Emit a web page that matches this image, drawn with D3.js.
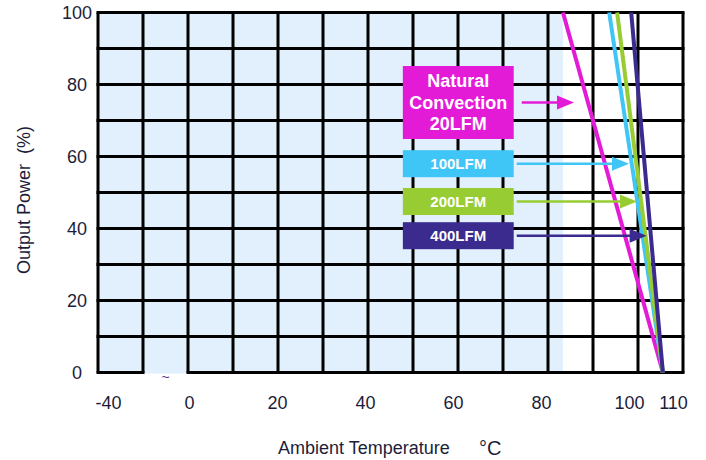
<!DOCTYPE html>
<html>
<head>
<meta charset="utf-8">
<script src="https://cdn.jsdelivr.net/npm/d3@7"></script>
<style>
  body { margin: 0; background: #fff; }
  svg { display: block; font-family: "Liberation Sans", Arial, sans-serif; }
</style>
</head>
<body>
<script>
// derating curves
const seriesNames = ["Natural\nConvection\n20LFM", "100LFM", "200LFM", "400LFM"];
const seriesColors = ["#e41bd6", "#3fc6f6", "#97cc32", "#3b2b8e"];
const fullLoadTemp = [85, 95.5, 97.3, 100.5];   // °C at 100 %
const zeroLoadTemp = [107.7, 107.7, 107.7, 107.7]; // °C at 0 %
const arrowLevel = [75, 58, 47.5, 38];          // % where each arrow points
const arrowTipTemp = [87.5, 100, 101.8, 104];

const xTicks = [-40, 0, 20, 40, 60, 80, 100, 110];
const yTicks = [0, 20, 40, 60, 80, 100];

const width = 706, height = 460;
const plot = { left: 98, right: 683, top: 12.5, bottom: 372.5 };

// broken axis: -40 sits left of the break, 0..110 linear
const x = d3.scaleLinear()
  .domain([-40, 0, 110])
  .range([108, 189, 673]);

const y = d3.scaleLinear()
  .domain([0, 100])
  .range([plot.bottom, plot.top]);

// grid cells are drawn independent of the labels (13 columns)
const gx = d3.scaleLinear().domain([0, 13]).range([plot.left, plot.right]);

const svg = d3.select("body").append("svg")
  .attr("width", width)
  .attr("height", height);

// light blue zone: full power in natural convection
svg.append("rect")
  .attr("x", plot.left)
  .attr("y", plot.top)
  .attr("width", x(fullLoadTemp[0]) - plot.left)
  .attr("height", plot.bottom - plot.top + 1)
  .attr("fill", "#e1f0fc");

const grid = svg.append("g")
  .attr("stroke", "#000")
  .attr("stroke-width", 3);

grid.selectAll(".v")
  .data(d3.range(0, 14))
  .join("line")
  .attr("x1", d => gx(d)).attr("x2", d => gx(d))
  .attr("y1", plot.top).attr("y2", plot.bottom);

grid.selectAll(".h")
  .data(d3.range(10, 101, 10))
  .join("line")
  .attr("x1", plot.left - 1.5).attr("x2", plot.right + 1.5)
  .attr("y1", d => y(d)).attr("y2", d => y(d));

// bottom border with the gap at the break
grid.append("path")
  .attr("fill", "none")
  .attr("d", `M${plot.left - 1.5},${plot.bottom}H${gx(1) + 1.5}M${gx(2) - 1.5},${plot.bottom}H${plot.right + 1.5}`);

svg.append("text")
  .attr("x", (gx(1) + gx(2)) / 2)
  .attr("y", 382)
  .attr("text-anchor", "middle")
  .attr("font-size", 14)
  .attr("fill", "#5a3d8a")
  .text("~");

// curves
const line = d3.line().x(d => x(d[0])).y(d => y(d[1]));
svg.append("g")
  .selectAll("path")
  .data(seriesNames.map((n, i) => [[fullLoadTemp[i], 100], [zeroLoadTemp[i], 0]]))
  .join("path")
  .attr("d", line)
  .attr("fill", "none")
  .attr("stroke", (d, i) => seriesColors[i])
  .attr("stroke-width", 4);

// axes
const xAxis = g => g
  .attr("transform", `translate(0,${plot.bottom})`)
  .call(d3.axisBottom(x).tickValues(xTicks).tickFormat(d => String(d)).tickSize(0).tickPadding(24))
  .call(g => g.select(".domain").remove())
  .call(g => g.selectAll("text")
    .attr("font-size", 18)
    .attr("font-family", "Liberation Sans, Arial, sans-serif")
    .attr("fill", "#1d1d3a"));

const yAxis = g => g
  .attr("transform", `translate(77,0)`)
  .call(d3.axisLeft(y).tickValues(yTicks).tickSize(0).tickPadding(0))
  .call(g => g.select(".domain").remove())
  .call(g => g.selectAll("text")
    .attr("text-anchor", "middle")
    .attr("font-size", 18)
    .attr("font-family", "Liberation Sans, Arial, sans-serif")
    .attr("fill", "#1d1d3a"));

svg.append("g").call(xAxis);
svg.append("g").call(yAxis);

svg.append("text")
  .attr("transform", "translate(30,200) rotate(-90)")
  .attr("text-anchor", "middle")
  .attr("font-size", 18)
  .attr("fill", "#1d1d3a")
  .attr("xml:space", "preserve")
  .text("Output Power  (%)");

svg.append("text")
  .attr("x", 278)
  .attr("y", 454)
  .attr("font-size", 18)
  .attr("fill", "#1d1d3a")
  .text("Ambient Temperature");

svg.append("text")
  .attr("x", 479)
  .attr("y", 455)
  .attr("font-size", 20)
  .attr("fill", "#1d1d3a")
  .text("°C");

// labels with arrows
const boxLeft = x(48.6), boxRight = x(73.8);
const labels = svg.append("g");
seriesNames.forEach((name, i) => {
  const lines = name.split("\n");
  const cy = y(arrowLevel[i]);
  const h = lines.length > 1 ? 73 : 27;
  const g = labels.append("g");
  g.append("rect")
    .attr("x", boxLeft)
    .attr("y", cy - h / 2)
    .attr("width", boxRight - boxLeft)
    .attr("height", h)
    .attr("fill", seriesColors[i]);
  const fs = lines.length > 1 ? 18 : 15;
  g.selectAll("text")
    .data(lines)
    .join("text")
    .attr("x", (boxLeft + boxRight) / 2)
    .attr("y", (d, j) => cy + (j - (lines.length - 1) / 2) * 21.5)
    .attr("dy", "0.36em")
    .attr("text-anchor", "middle")
    .attr("font-size", fs)
    .attr("font-weight", "bold")
    .attr("fill", "#fff")
    .text(d => d);

  const tip = x(arrowTipTemp[i]);
  const start = boxRight + (i === 0 ? 8 : 3);
  g.append("line")
    .attr("x1", start).attr("x2", tip - 10)
    .attr("y1", cy).attr("y2", cy)
    .attr("stroke", seriesColors[i])
    .attr("stroke-width", 2.5);
  g.append("path")
    .attr("d", `M${tip},${cy}L${tip - 17},${cy - 7}L${tip - 17},${cy + 7}Z`)
    .attr("fill", seriesColors[i]);
});
</script>
</body>
</html>
